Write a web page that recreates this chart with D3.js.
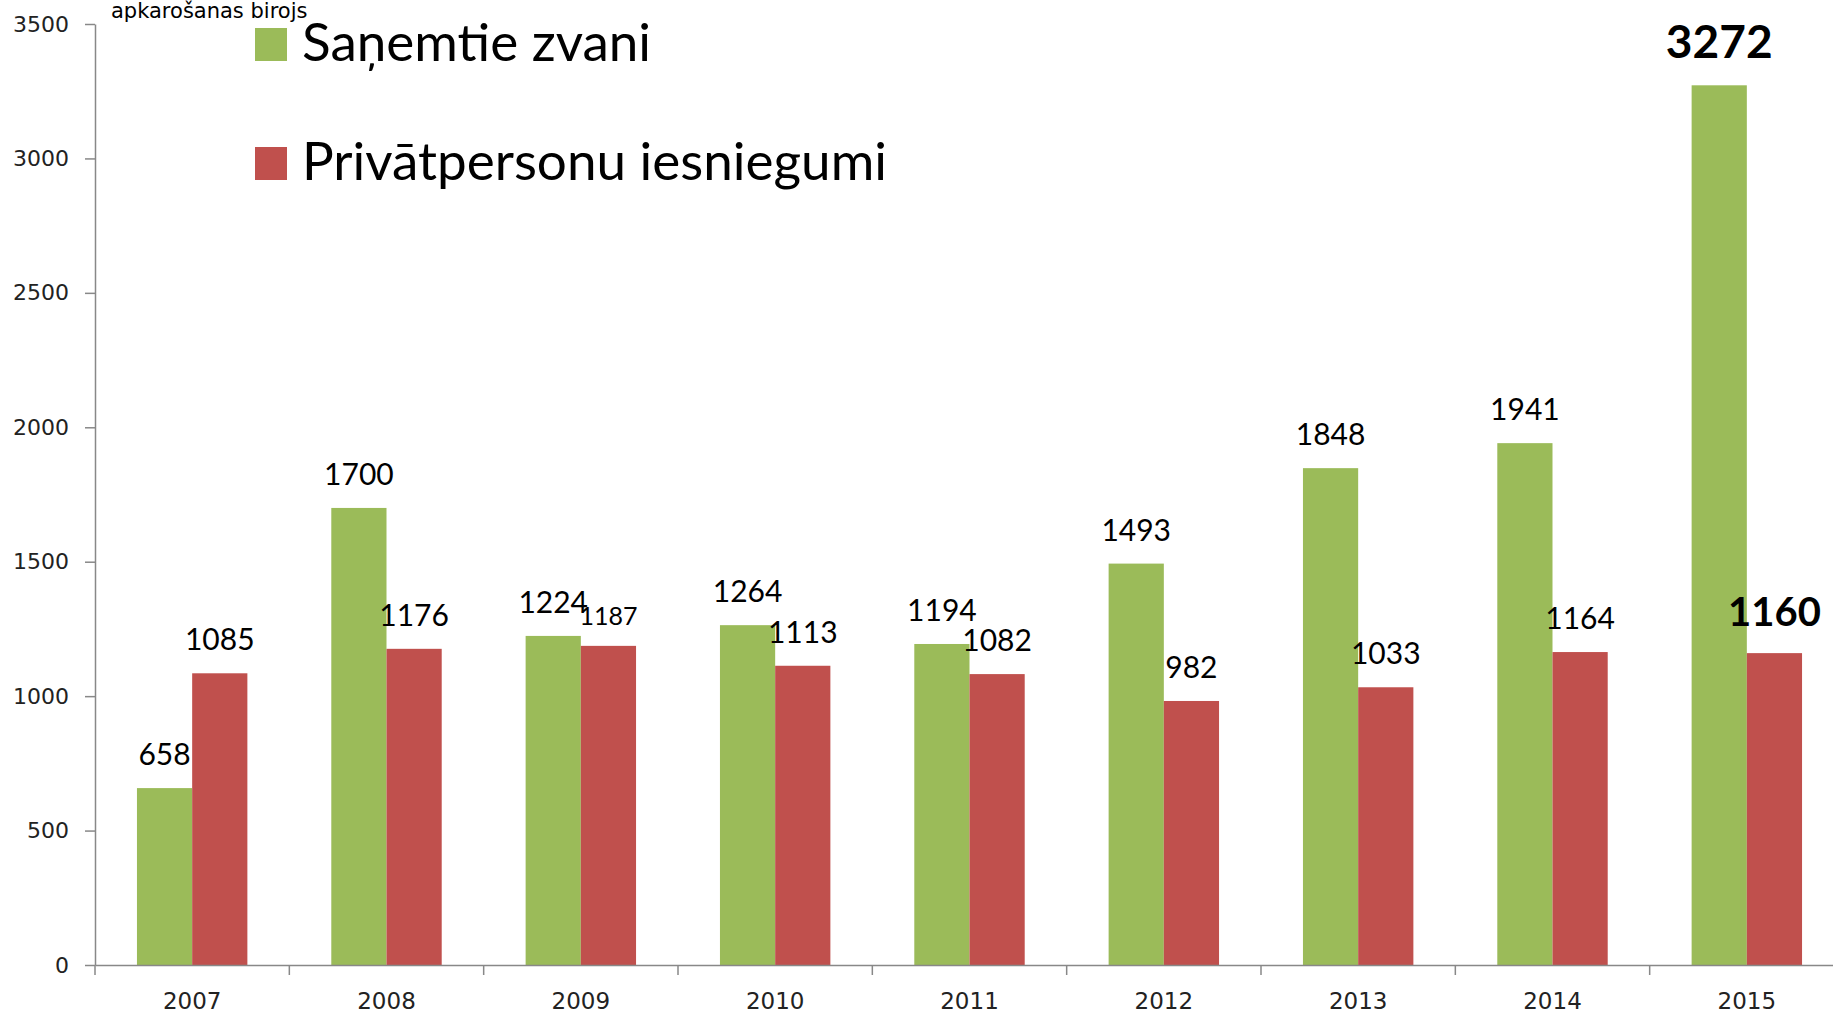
<!DOCTYPE html>
<html>
<head>
<meta charset="utf-8">
<script src="https://cdn.jsdelivr.net/npm/d3@7"></script>
<style>
  body { margin: 0; background: #fff; }
  svg { display: block; }
</style>
</head>
<body>
<div id="chart"></div>
<script>
// data
var years = ["2007", "2008", "2009", "2010", "2011", "2012", "2013", "2014", "2015"];
var zvani = [658, 1700, 1224, 1264, 1194, 1493, 1848, 1941, 3272];
var iesniegumi = [1085, 1176, 1187, 1113, 1082, 982, 1033, 1164, 1160];
var seriesNames = ["Saņemtie zvani", "Privātpersonu iesniegumi"];
var yTicks = [0, 500, 1000, 1500, 2000, 2500, 3000, 3500];
var title = "apkarošanas birojs";

var W = 1833, H = 1016,
    margin = {top: 24, right: -11, bottom: 51, left: 95},
    width = W - margin.left - margin.right,
    height = H - margin.top - margin.bottom;

var colors = ["#9bbb59", "#c0504d"];

var svg = d3.select("#chart").append("svg")
  .attr("width", W).attr("height", H);

var g = svg.append("g")
  .attr("transform", "translate(" + margin.left + "," + margin.top + ")");

var x0 = d3.scaleBand().domain(years).range([0, width]).padding(0);
var x1 = d3.scaleBand().domain([0, 1]).range([0, x0.bandwidth()])
  .paddingInner(0).paddingOuter(0.76);
var y = d3.scaleLinear().domain([0, 3500]).range([height, 0]);

// y axis
var yAxis = d3.axisLeft(y).tickValues(yTicks).tickFormat(d3.format("d"))
  .tickSize(10).tickPadding(16).tickSizeOuter(0);
var ya = g.append("g").attr("class", "yaxis").call(yAxis);
ya.select(".domain").attr("stroke", "#888").attr("stroke-width", 1.5);
ya.selectAll(".tick line").attr("stroke", "#888").attr("stroke-width", 1.5);
ya.selectAll(".tick text")
  .attr("font-family", "DejaVu Sans, Verdana, sans-serif")
  .attr("font-size", 22).attr("fill", "#222");

// bars
var rows = years.map(function(yr, i) { return {year: yr, vals: [zvani[i], iesniegumi[i]], i: i}; });

var grp = g.selectAll(".year").data(rows).enter().append("g")
  .attr("transform", function(d) { return "translate(" + x0(d.year) + ",0)"; });

grp.selectAll("rect").data(function(d) {
    return d.vals.map(function(v, s) { return {v: v, s: s, i: d.i}; });
  }).enter().append("rect")
  .attr("x", function(d) { return x1(d.s); })
  .attr("width", x1.bandwidth())
  .attr("y", function(d) { return y(d.v); })
  .attr("height", function(d) { return height - y(d.v); })
  .attr("fill", function(d) { return colors[d.s]; });

// value labels
grp.selectAll("text.lbl").data(function(d) {
    return d.vals.map(function(v, s) { return {v: v, s: s, i: d.i}; });
  }).enter().append("text")
  .attr("class", "lbl")
  .attr("x", function(d) { return x1(d.s) + x1.bandwidth() / 2; })
  .attr("y", function(d) {
    var off = 23;
    if (d.i === years.length - 1) off = 27;
    if (d.i === 2 && d.s === 1) off = 21;
    return y(d.v) - off;
  })
  .attr("text-anchor", "middle")
  .attr("font-family", "Lato, 'Open Sans', sans-serif")
  .attr("font-weight", function(d) { return d.i === years.length - 1 ? "bold" : "normal"; })
  .attr("font-size", function(d) {
    if (d.i === years.length - 1) return d.s === 0 ? 46 : 40;
    if (d.i === 2 && d.s === 1) return 25;
    return 30;
  })
  .attr("fill", "#000")
  .text(function(d) { return d.v; });

// x axis
var xAxis = d3.axisBottom(x0).tickSize(0).tickPadding(28);
var xa = g.append("g").attr("transform", "translate(0," + height + ")").call(xAxis);
xa.select(".domain").attr("stroke", "#888").attr("stroke-width", 1.5);
xa.selectAll(".tick text")
  .attr("font-family", "DejaVu Sans, Verdana, sans-serif")
  .attr("font-size", 23).attr("fill", "#222");
// category boundary ticks
xa.selectAll(".sep").data(years).enter().append("line")
  .attr("x1", function(d) { return x0(d); }).attr("x2", function(d) { return x0(d); })
  .attr("y1", 0).attr("y2", 10)
  .attr("stroke", "#888").attr("stroke-width", 1.5);

// title fragment at top
svg.append("text")
  .attr("x", 111).attr("y", 18)
  .attr("font-family", "DejaVu Sans, Verdana, sans-serif")
  .attr("font-size", 21).attr("fill", "#000")
  .text(title);

// legend
var leg = svg.append("g").attr("transform", "translate(255,28)");
var li = leg.selectAll("g").data(seriesNames).enter().append("g")
  .attr("transform", function(d, i) { return "translate(0," + (i * 119) + ")"; });
li.append("rect").attr("width", 32).attr("height", 33)
  .attr("fill", function(d, i) { return colors[i]; });
li.append("text")
  .attr("x", 47).attr("y", 33)
  .attr("font-family", "Lato, 'Open Sans', sans-serif")
  .attr("font-size", 53).attr("fill", "#000")
  .text(function(d) { return d; });
</script>
</body>
</html>
